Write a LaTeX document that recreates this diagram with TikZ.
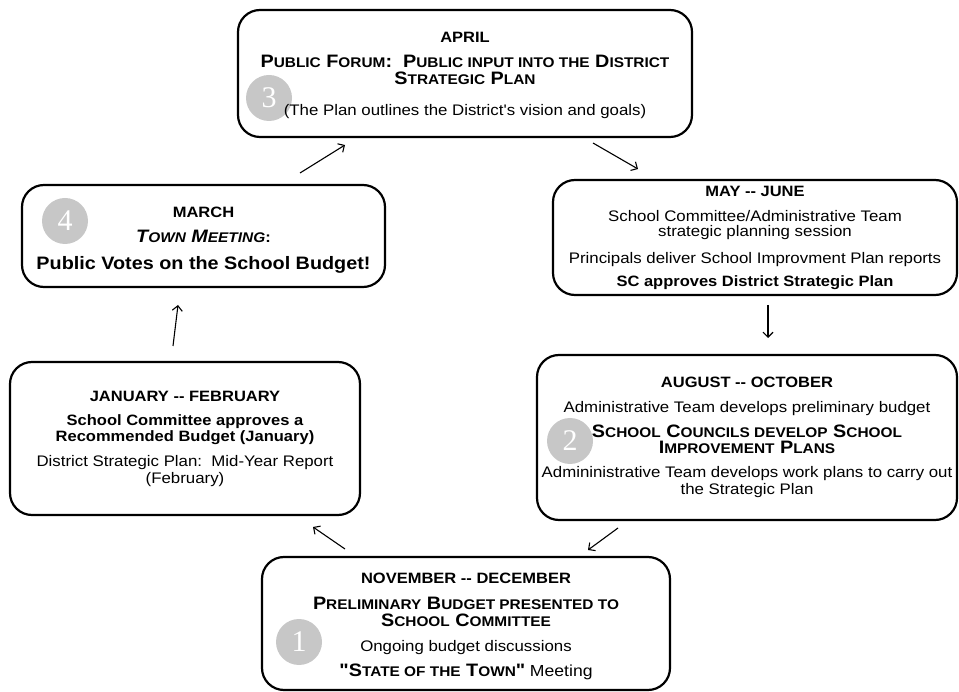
\documentclass[tikz,border=0pt]{standalone}
\usepackage{fontspec}
\setmainfont{Liberation Sans}[FakeStretch=1.1, Ligatures=TeXOff]
\newfontfamily\numfont{Liberation Serif}
\usetikzlibrary{arrows.meta, positioning, calc}
\pgfdeclarelayer{background}
\pgfsetlayers{background,main}
\newcommand{\hd}[1]{{\fontsize{15}{17}\selectfont\bfseries #1}}
\newcommand{\bigsc}[1]{{\fontsize{18}{20}\selectfont\bfseries #1}}
\newcommand{\sml}[1]{{\fontsize{14}{20}\selectfont #1}}
\newcommand{\lift}[1]{\rule{0pt}{#1}}
\tikzset{
    stage/.style={draw, line width=2.2pt, rounded corners=22pt, align=center, inner sep=0pt, font=\fontsize{15.3}{17}\selectfont},
    cyclearrow/.style={-{Straight Barb[length=5pt, width=10pt]}, line width=1.1pt},
    badge/.style={circle, fill=black!22, text=white, minimum size=46pt, inner sep=0pt, font=\numfont\fontsize{30}{30}\selectfont},
}

\begin{document}
\begin{tikzpicture}[x=1pt, y=-1pt]
    \useasboundingbox (0,0) rectangle (959,692);

    % the six stages of the year
    \node[stage, minimum width=454pt, minimum height=127pt] (april) at (465,73.5) {%
        \lift{14pt}\hd{APRIL}\\[8pt]
        \bigsc{P\sml{UBLIC} F\sml{ORUM}:\ \ P\sml{UBLIC INPUT INTO THE} D\sml{ISTRICT}}\\
        \bigsc{S\sml{TRATEGIC} P\sml{LAN}}\\[14pt]
        (The Plan outlines the District's vision and goals)};

    \node[stage, minimum width=404pt, minimum height=115pt] (mayjune) at (755,237.5) {%
        \hd{MAY -- JUNE}\\[8pt]
        School Committee/Administrative Team\\[-2pt]
        strategic planning session\\[10pt]
        Principals deliver School Improvment Plan reports\\[6pt]
        \hd{SC approves District Strategic Plan}};

    \node[stage, minimum width=420pt, minimum height=165pt] (augoct) at (747,437.5) {%
        \hd{AUGUST -- OCTOBER}\\[8pt]
        Administrative Team develops preliminary budget\\[8pt]
        \bigsc{S\sml{CHOOL} C\sml{OUNCILS DEVELOP} S\sml{CHOOL}}\\[-1pt]
        \bigsc{I\sml{MPROVEMENT} P\sml{LANS}}\\[7pt]
        Admininistrative Team develops work plans to carry out\\
        the Strategic Plan};

    \node[stage, minimum width=408pt, minimum height=133pt] (novdec) at (466,623.5) {%
        \lift{17pt}\hd{NOVEMBER -- DECEMBER}\\[9pt]
        \bigsc{P\sml{RELIMINARY} B\sml{UDGET PRESENTED TO}}\\[0pt]
        \bigsc{S\sml{CHOOL} C\sml{OMMITTEE}}\\[8pt]
        Ongoing budget discussions\\[8pt]
        \bigsc{"S\sml{TATE OF THE} T\sml{OWN}"} {\fontsize{16}{18}\selectfont Meeting}};

    \node[stage, minimum width=350pt, minimum height=153pt] (janfeb) at (185,438.5) {%
        \hd{JANUARY -- FEBRUARY}\\[7pt]
        \hd{School Committee approves a}\\[-1pt]
        \hd{Recommended Budget (January)}\\[8pt]
        District Strategic Plan:\ \ Mid-Year Report\\
        (February)};

    \node[stage, minimum width=363pt, minimum height=102pt] (march) at (203.5,236) {%
        \lift{18pt}\hd{MARCH}\\[8pt]
        \bigsc{\itshape T\sml{OWN} M\sml{EETING}}\hd{:}\\[10pt]
        {\fontsize{18}{20}\selectfont\bfseries Public Votes on the School Budget!}};

    % numbered badges behind the text
    \begin{pgfonlayer}{background}
        \node[badge] (b1) at (299,642) {1};
        \node[badge] (b2) at (570,441) {2};
        \node[badge] (b3) at (269,98) {3};
        \node[badge] (b4) at (65,221) {4};
    \end{pgfonlayer}

    % arrows round the cycle
    \coordinate (m2a) at (300,173);  \coordinate (a2m) at (345,145);
    \coordinate (a2s) at (593,143);  \coordinate (s2a) at (638,169);
    \coordinate (s2o) at (768,305);  \coordinate (o2s) at (768,338);
    \coordinate (o2n) at (618,528);  \coordinate (n2o) at (588,550);
    \coordinate (n2j) at (345,549);  \coordinate (j2n) at (313,527);
    \coordinate (j2m) at (173,346);  \coordinate (m2j) at (178,305);

    \draw[cyclearrow] (m2a) -- (a2m);
    \draw[cyclearrow] (a2s) -- (s2a);
    \draw[cyclearrow] (s2o) -- (o2s);
    \draw[cyclearrow] (o2n) -- (n2o);
    \draw[cyclearrow] (n2j) -- (j2n);
    \draw[cyclearrow] (j2m) -- (m2j);
\end{tikzpicture}
\end{document}
